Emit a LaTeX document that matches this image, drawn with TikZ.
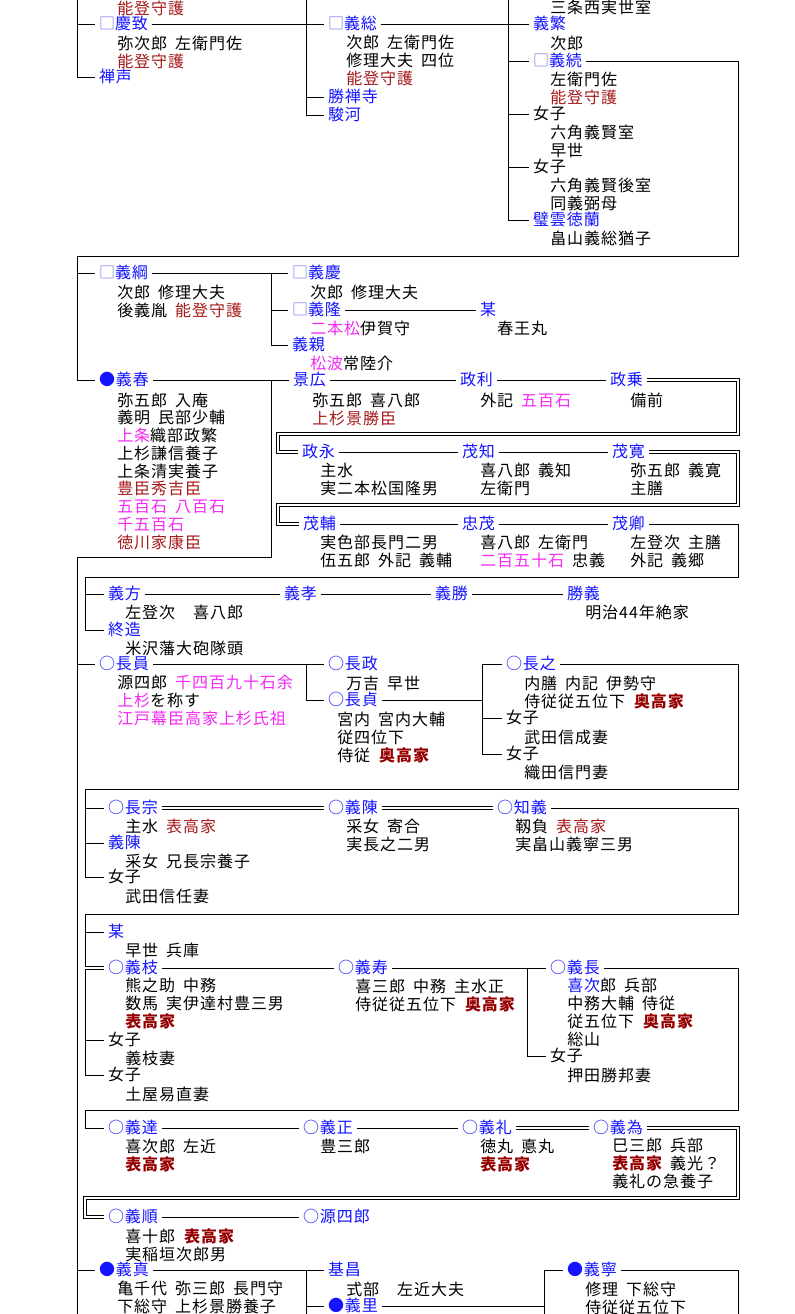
\documentclass[tikz,border=0pt]{standalone}
\usepackage{fontspec}
\newfontfamily\jp[LetterSpace=6]{Noto Sans CJK JP}
\newcommand\jpfont{\fontsize{12pt}{13.3pt}\jp\spaceskip=.5em\relax}
\definecolor{nblue}{RGB}{20,20,255}
\definecolor{hako}{RGB}{110,110,240}
\definecolor{akacha}{RGB}{165,25,25}
\definecolor{koudai}{RGB}{150,0,0}
\definecolor{koku}{RGB}{245,40,245}
\tikzset{
  nm/.style={anchor=west,inner sep=0pt,outer xsep=3pt,outer ysep=0pt,text height=.88em,text depth=.12em,text=nblue},
  nmk/.style={nm,text=black},
  tx/.style={anchor=base west,inner sep=0pt,align=left},
  ln/.style={black,line width=.75pt},
  dbl/.style={black,line width=.75pt,double,double distance=1.5pt}
}
\begin{document}
\begin{tikzpicture}[x=0.75pt,y=-0.75pt,font=\jpfont]
\path[use as bounding box,fill=white] (0,0) rectangle (794,1314);
% top (tx nodes sit on the baseline of their last line)
\node[tx] at (117,14) {\textcolor{akacha}{能登守護}};
\node[nm] (keiti) at (95,24) {\textcolor{hako}{□}慶致};
\node[tx] at (117,67) {弥次郎 左衛門佐\\\textcolor{akacha}{能登守護}};
\node[nm] (zensei) at (95,77) {禅声};
\node[nm] (yoshifusa) at (324,24) {\textcolor{hako}{□}義総};
\node[tx] at (346,84) {次郎 左衛門佐\\修理大夫 四位\\\textcolor{akacha}{能登守護}};
\node[nm] (shozenji) at (324,97) {勝禅寺};
\node[nm] (suruga) at (324,115) {駿河};
\node[tx] at (550,13) {三条西実世室};
\node[nm] (yoshishige) at (529,24) {義繁};
\node[tx] at (550,49) {次郎};
\node[nm] (yoshitsugu) at (529,61) {\textcolor{hako}{□}義続};
\node[tx] at (550,103) {左衛門佐\\\textcolor{akacha}{能登守護}};
\node[nmk] (jo1) at (529,114) {女子};
\node[tx] at (550,156) {六角義賢室\\早世};
\node[nmk] (jo2) at (529,167) {女子};
\node[tx] at (550,209) {六角義賢後室\\同義弼母};
\node[nm] (hekiun) at (529,220) {璧雲徳蘭};
\node[tx] at (550,244) {畠山義総猶子};
% yoshitsuna, yoshiharu
\node[nm] (yoshitsuna) at (95,273) {\textcolor{hako}{□}義綱};
\node[tx] at (117,316) {次郎 修理大夫\\後義胤 \textcolor{akacha}{能登守護}};
\node[nm] (yoshiyoshi) at (288,273) {\textcolor{hako}{□}義慶};
\node[tx] at (310,298) {次郎 修理大夫};
\node[nm] (yoshitaka) at (288,310) {\textcolor{hako}{□}義隆};
\node[tx] at (310,334) {\textcolor{koku}{二本松}伊賀守};
\node[nm] (yoshichika) at (288,345) {義親};
\node[tx] at (310,369) {\textcolor{koku}{松波}常陸介};
\node[nm] (bou1) at (476,310) {某};
\node[tx] at (497,334) {春王丸};
\node[nm] (yoshiharu) at (95,380) {●義春};
\node[tx] at (117,548) {弥五郎 入庵\\義明 民部少輔\\\textcolor{koku}{上条}織部政繁\\上杉謙信養子\\上条清実養子\\\textcolor{akacha}{豊臣秀吉臣}\\\textcolor{koku}{五百石 八百石}\\\textcolor{koku}{千五百石}\\\textcolor{akacha}{徳川家康臣}};
\node[nm] (kagehiro) at (289,380) {景広};
\node[tx] at (312,424) {弥五郎 喜八郎\\\textcolor{akacha}{上杉景勝臣}};
\node[nm] (masatoshi) at (456,380) {政利};
\node[tx] at (480,406) {外記 \textcolor{koku}{五百石}};
\node[nm] (masanori) at (606,380) {政乗};
\node[tx] at (630,406) {備前};
\node[nm] (masanaga) at (298,452) {政永};
\node[tx] at (320,494) {主水\\実二本松国隆男};
\node[nm] (shigetomo) at (458,452) {茂知};
\node[tx] at (480,494) {喜八郎 義知\\左衛門};
\node[nm] (shigehiro) at (608,452) {茂寛};
\node[tx] at (630,494) {弥五郎 義寛\\主膳};
\node[nm] (shigesuke) at (299,524) {茂輔};
\node[tx] at (320,566) {実色部長門二男\\伍五郎 外記 義輔};
\node[nm] (tadashige) at (458,524) {忠茂};
\node[tx] at (480,566) {喜八郎 左衛門\\\textcolor{koku}{二百五十石} 忠義};
\node[nm] (shigenori) at (608,524) {茂卿};
\node[tx] at (630,566) {左登次 主膳\\外記 義郷};
% yoshikata
\node[nm] (yoshikata) at (104,594) {義方};
\node[tx] at (125,618) {左登次　喜八郎};
\node[nm] (yoshitaka2) at (280,594) {義孝};
\node[nm] (yoshikatsu) at (431,594) {義勝};
\node[nm] (katsuyoshi) at (563,594) {勝義};
\node[tx] at (585,618) {明治44年絶家};
\node[nm] (shuzo) at (104,630) {終造};
\node[tx] at (125,654) {米沢藩大砲隊頭};
% nagakazu
\node[nm] (nagakazu) at (95,664) {○長員};
\node[tx] at (117,724) {源四郎 \textcolor{koku}{千四百九十石余}\\\textcolor{koku}{上杉}を称す\\\textcolor{koku}{江戸幕臣高家上杉氏祖}};
\node[nm] (nagamasa) at (324,664) {○長政};
\node[tx] at (346,689) {万吉 早世};
\node[nm] (nagasada) at (324,700) {○長貞};
\node[tx] at (337,761) {宮内 宮内大輔\\従四位下\\侍従 \textbf{\textcolor{koudai}{奥高家}}};
\node[nm] (nagayuki) at (502,664) {○長之};
\node[tx] at (524,707) {内膳 内記 伊勢守\\侍従従五位下 \textbf{\textcolor{koudai}{奥高家}}};
\node[nmk] (jo3) at (502,718) {女子};
\node[tx] at (524,743) {武田信成妻};
\node[nmk] (jo4) at (502,754) {女子};
\node[tx] at (524,778) {織田信門妻};
% nagamune
\node[nm] (nagamune) at (104,808) {○長宗};
\node[tx] at (125,832) {主水 \textcolor{akacha}{表高家}};
\node[nm] (yoshinobu) at (104,843) {義陳};
\node[tx] at (125,867) {采女 兄長宗養子};
\node[nmk] (jo5) at (104,877) {女子};
\node[tx] at (125,902) {武田信任妻};
\node[nm] (yoshinobu2) at (324,808) {○義陳};
\node[tx] at (346,850) {采女 寄合\\実長之二男};
\node[nm] (tomoyoshi) at (493,808) {○知義};
\node[tx] at (515,850) {靱負 \textcolor{akacha}{表高家}\\実畠山義寧三男};
% bou2, yoshieda
\node[nm] (bou2) at (104,932) {某};
\node[tx] at (125,956) {早世 兵庫};
\node[nm] (yoshieda) at (104,968) {○義枝};
\node[tx] at (125,1027) {熊之助 中務\\数馬 実伊達村豊三男\\\textbf{\textcolor{koudai}{表高家}}};
\node[nmk] (jo6) at (104,1040) {女子};
\node[tx] at (125,1064) {義枝妻};
\node[nmk] (jo7) at (104,1075) {女子};
\node[tx] at (125,1100) {土屋易直妻};
\node[nm] (yoshihisa) at (334,968) {○義寿};
\node[tx] at (355,1010) {喜三郎 中務 主水正\\侍従従五位下 \textbf{\textcolor{koudai}{奥高家}}};
\node[nm] (yoshinaga) at (546,968) {○義長};
\node[tx] at (567,1045) {\textcolor{nblue}{喜次}郎 兵部\\中務大輔 侍従\\従五位下 \textbf{\textcolor{koudai}{奥高家}}\\総山};
\node[nmk] (jo8) at (546,1056) {女子};
\node[tx] at (567,1081) {押田勝邦妻};
% yoshitatsu
\node[nm] (yoshitatsu) at (104,1128) {○義達};
\node[tx] at (125,1170) {喜次郎 左近\\\textbf{\textcolor{koudai}{表高家}}};
\node[nm] (yoshimasa) at (299,1128) {○義正};
\node[tx] at (320,1152) {豊三郎};
\node[nm] (yoshinori) at (458,1128) {○義礼};
\node[tx] at (480,1170) {徳丸 悳丸\\\textbf{\textcolor{koudai}{表高家}}};
\node[nm] (yoshitame) at (589,1128) {○義為};
\node[tx] at (612,1187) {巳三郎 兵部\\\textbf{\textcolor{koudai}{表高家}} 義光？\\義礼の急養子};
\node[nm] (yoshiyori) at (104,1217) {○義順};
\node[tx] at (125,1260) {喜十郎 \textbf{\textcolor{koudai}{表高家}}\\実稲垣次郎男};
\node[nm] (genshiro) at (299,1217) {○源四郎};
% yoshizane
\node[nm] (yoshizane) at (95,1270) {●義真};
\node[tx] at (117,1312) {亀千代 弥三郎 長門守\\下総守 上杉景勝養子};
\node[nm] (motomasa) at (324,1270) {基昌};
\node[tx] at (346,1295) {式部　左近大夫};
\node[nm] (yoshisato) at (324,1306) {●義里};
\node[nm] (yoshiyasu) at (563,1270) {●義寧};
\node[tx] at (585,1313) {修理 下総守\\侍従従五位下};
% trunks and corners
\coordinate (ta) at (77,-2);
\coordinate (tb) at (306,-2);
\coordinate (tc) at (508,-2);
\coordinate (ka) at (77,256);
\coordinate (kb) at (738,256);
\coordinate (td) at (271,273);
\coordinate (te) at (271,380);
\coordinate (tg) at (77,557);
\coordinate (th) at (77,1316);
\coordinate (w1) at (738,434);
\coordinate (w2) at (278,434);
\coordinate (w3) at (738,505);
\coordinate (w4) at (278,505);
\coordinate (w5) at (738,577);
\coordinate (w6) at (85,577);
\coordinate (ti) at (306,664);
\coordinate (tj) at (482,664);
\coordinate (w7) at (738,789);
\coordinate (w8) at (85,789);
\coordinate (w9) at (738,914);
\coordinate (w10) at (85,914);
\coordinate (tk) at (527,968);
\coordinate (w11) at (738,1110);
\coordinate (w12) at (85,1110);
\coordinate (w13) at (738,1198);
\coordinate (w14) at (85,1198);
\coordinate (tl) at (306,1270);
\coordinate (tl2) at (306,1316);
\coordinate (tm) at (544,1270);
\coordinate (tm2) at (544,1316);
\coordinate (tn) at (738,1316);
% connectors
\draw[ln] (ta) |- (zensei.west);
\draw[ln] (ta |- keiti.west) -- (keiti.west);
\draw[ln] (keiti.east) -- (yoshifusa.west);
\draw[ln] (tb) |- (suruga.west);
\draw[ln] (tb |- shozenji.west) -- (shozenji.west);
\draw[ln] (yoshifusa.east) -- (yoshishige.west);
\draw[ln] (tc) |- (hekiun.west);
\draw[ln] (tc |- yoshitsugu.west) -- (yoshitsugu.west);
\draw[ln] (tc |- jo1.west) -- (jo1.west);
\draw[ln] (tc |- jo2.west) -- (jo2.west);
\draw[ln] (yoshitsugu.east) -| (kb) -- (ka) |- (yoshiharu.west);
\draw[ln] (ka |- yoshitsuna.west) -- (yoshitsuna.west);
\draw[ln] (yoshitsuna.east) -- (yoshiyoshi.west);
\draw[ln] (td) |- (yoshichika.west);
\draw[ln] (td |- yoshitaka.west) -- (yoshitaka.west);
\draw[ln] (yoshitaka.east) -- (bou1.west);
\draw[ln] (yoshiharu.east) -- (kagehiro.west);
\draw[ln] (te) |- (tg) -- (th);
\draw[ln] (kagehiro.east) -- (masatoshi.west);
\draw[ln] (masatoshi.east) -- (masanori.west);
\draw[dbl] (masanori.east) -| (w1) -- (w2) |- (masanaga.west);
\draw[ln] (masanaga.east) -- (shigetomo.west);
\draw[ln] (shigetomo.east) -- (shigehiro.west);
\draw[dbl] (shigehiro.east) -| (w3) -- (w4) |- (shigesuke.west);
\draw[ln] (shigesuke.east) -- (tadashige.west);
\draw[ln] (tadashige.east) -- (shigenori.west);
\draw[ln] (shigenori.east) -| (w5) -- (w6) |- (shuzo.west);
\draw[ln] (w6 |- yoshikata.west) -- (yoshikata.west);
\draw[ln] (yoshikata.east) -- (yoshitaka2.west);
\draw[ln] (yoshitaka2.east) -- (yoshikatsu.west);
\draw[ln] (yoshikatsu.east) -- (katsuyoshi.west);
\draw[ln] (tg |- nagakazu.west) -- (nagakazu.west);
\draw[ln] (nagakazu.east) -- (nagamasa.west);
\draw[ln] (ti) |- (nagasada.west);
\draw[ln] (nagasada.east) -- (tj |- nagasada.east);
\draw[ln] (tj) -- (nagayuki.west);
\draw[ln] (tj) |- (jo4.west);
\draw[ln] (tj |- jo3.west) -- (jo3.west);
\draw[ln] (nagayuki.east) -| (w7) -- (w8) |- (jo5.west);
\draw[ln] (w8 |- nagamune.west) -- (nagamune.west);
\draw[ln] (w8 |- yoshinobu.west) -- (yoshinobu.west);
\draw[dbl] (nagamune.east) -- (yoshinobu2.west);
\draw[dbl] (yoshinobu2.east) -- (tomoyoshi.west);
\draw[ln] (tomoyoshi.east) -| (w9) -- (w10) |- (jo7.west);
\draw[ln] (w10 |- bou2.west) -- (bou2.west);
\draw[dbl] (w10 |- yoshieda.west) -- (yoshieda.west);
\draw[ln] (w10 |- jo6.west) -- (jo6.west);
\draw[ln] (yoshieda.east) -- (yoshihisa.west);
\draw[ln] (yoshihisa.east) -- (yoshinaga.west);
\draw[ln] (tk) |- (jo8.west);
\draw[ln] (yoshinaga.east) -| (w11) -- (w12) |- (yoshitatsu.west);
\draw[ln] (yoshitatsu.east) -- (yoshimasa.west);
\draw[ln] (yoshimasa.east) -- (yoshinori.west);
\draw[dbl] (yoshinori.east) -- (yoshitame.west);
\draw[dbl] (yoshitame.east) -| (w13) -- (w14) |- (yoshiyori.west);
\draw[ln] (yoshiyori.east) -- (genshiro.west);
\draw[ln] (th |- yoshizane.west) -- (yoshizane.west);
\draw[ln] (yoshizane.east) -- (motomasa.west);
\draw[ln] (tl) -- (tl2);
\draw[ln] (tl |- yoshisato.west) -- (yoshisato.west);
\draw[ln] (yoshisato.east) -- (tm |- yoshisato.east);
\draw[ln] (tm) -- (tm2);
\draw[ln] (tm) -- (yoshiyasu.west);
\draw[ln] (yoshiyasu.east) -| (tn);
\end{tikzpicture}
\end{document}
